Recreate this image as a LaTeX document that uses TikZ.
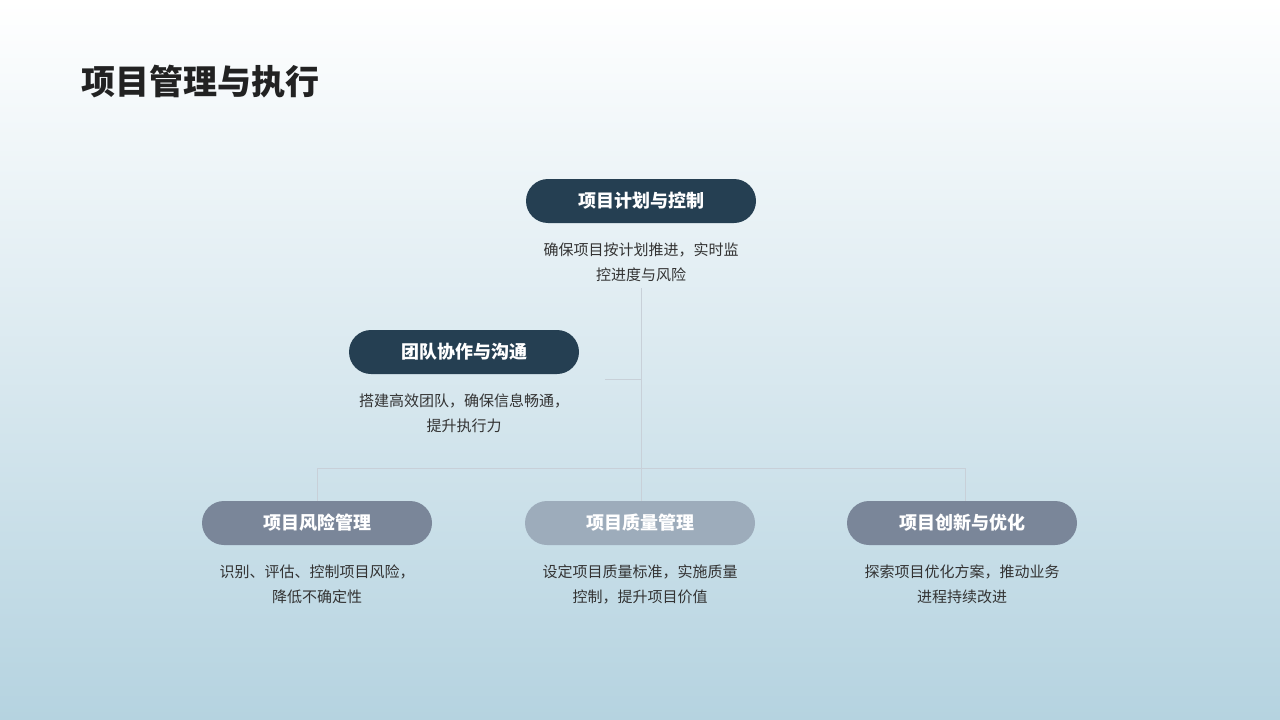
\documentclass[tikz,border=0pt]{standalone}
\usepackage{fontspec}
\setmainfont{Noto Sans CJK SC}
\usepackage{xcolor}
\definecolor{darkpill}{HTML}{253F52}
\definecolor{greypill}{HTML}{7A8699}
\definecolor{lightpill}{HTML}{9DACBB}
\definecolor{linkline}{HTML}{C8D0D8}
\definecolor{bodytext}{HTML}{333333}
\tikzset{
  pill/.style={rounded corners=22pt, minimum width=230pt, minimum height=44pt,
    text=white, font=\fontsize{18}{22}\selectfont\bfseries, inner sep=0pt},
  desc/.style={align=center, text=bodytext, font=\fontsize{15}{25}\selectfont},
  link/.style={draw=linkline, line width=0.8pt}
}
\begin{document}
\begin{tikzpicture}[x=1pt,y=-1pt]
	\shade[top color=white, bottom color={rgb,255:red,181;green,211;blue,224}] (0,0) rectangle (1280,720);
	\useasboundingbox (0,0) rectangle (1280,720);
	
	% title
	\node[anchor=west, text={rgb,255:red,34;green,34;blue,34}, font=\fontsize{34}{40}\selectfont\bfseries] (title) at (78,82) {项目管理与执行};
	
	% pills
	\foreach \n/\x/\y/\c/\t in
	{plan/641/201/darkpill/项目计划与控制, team/464/352/darkpill/团队协作与沟通,
	 risk/317/523/greypill/项目风险管理, qual/640/523/lightpill/项目质量管理,
	 innov/962/523/greypill/项目创新与优化}{
		\node[pill, fill=\c] (\n) at (\x,\y) {\t};
	}
	
	% descriptions
	\node[desc] (planD) at (641,262) {确保项目按计划推进，实时监\\控进度与风险};
	\node[desc] (teamD) at (464,413) {搭建高效团队，确保信息畅通，\\提升执行力};
	\node[desc] (riskD) at (317,584) {识别、评估、控制项目风险，\\降低不确定性};
	\node[desc] (qualD) at (640,584) {设定项目质量标准，实施质量\\控制，提升项目价值};
	\node[desc] (innovD) at (962,584) {探索项目优化方案，推动业务\\进程持续改进};
	
	% connectors
	\coordinate (trunkT) at (641,288);
	\coordinate (branch) at (641,379);
	\coordinate (teamJ) at (605,379);
	\coordinate (hub) at (641,468);
	\coordinate (leftJ) at (317,468);
	\coordinate (rightJ) at (965,468);
	\draw[link] (trunkT) -- (hub);
	\draw[link] (teamJ) -- (branch);
	\draw[link] (leftJ) -- (rightJ);
	\draw[link] (leftJ) -- (risk.north);
	\draw[link] (rightJ) -- (rightJ |- innov.north);
	\draw[link] (hub) -- (hub |- qual.north);
\end{tikzpicture}
\end{document}
